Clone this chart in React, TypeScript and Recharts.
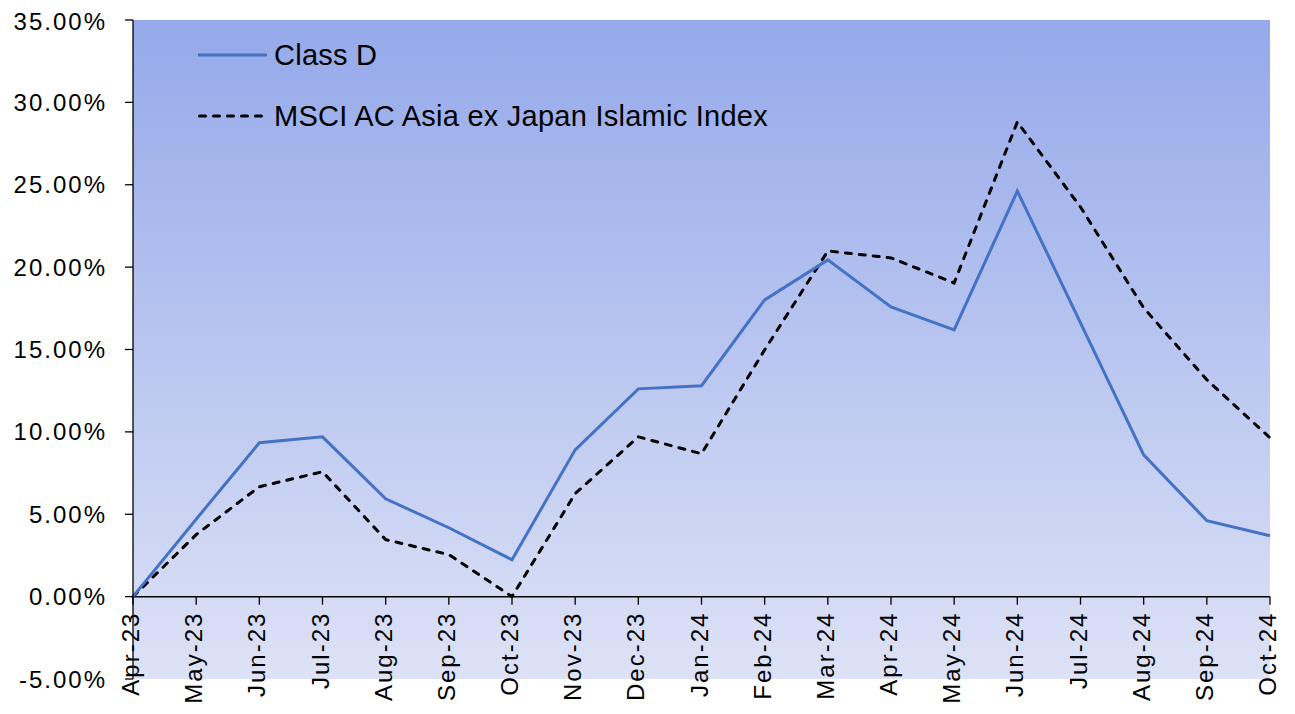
import {
  LineChart,
  Line,
  XAxis,
  YAxis,
  CartesianGrid,
  ReferenceLine,
} from 'recharts'

const months = [
  'Apr-23', 'May-23', 'Jun-23', 'Jul-23', 'Aug-23', 'Sep-23', 'Oct-23',
  'Nov-23', 'Dec-23', 'Jan-24', 'Feb-24', 'Mar-24', 'Apr-24', 'May-24',
  'Jun-24', 'Jul-24', 'Aug-24', 'Sep-24', 'Oct-24',
]
const classD = [
  0, 4.7, 9.34, 9.7, 5.94, 4.18, 2.24, 8.91, 12.61, 12.8, 18.01, 20.44,
  17.59, 16.19, 24.62, 16.62, 8.61, 4.61, 3.7,
]
const msci = [
  0, 3.76, 6.67, 7.58, 3.46, 2.55, 0, 6.25, 9.7, 8.67, 14.98, 20.98,
  20.56, 19.04, 28.81, 23.65, 17.53, 13.16, 9.64,
]
const yTicks = [-5, 0, 5, 10, 15, 20, 25, 30, 35]

const data = months.map((m, i) => ({ month: m, classD: classD[i], msci: msci[i] }))

const W = 1287
const H = 706
const X_AXIS_H = 30
const MARGIN = { top: 12, right: 25, bottom: 35 - X_AXIS_H, left: 0 }
const PLOT_H = H - 12 - 35
// distance from bottom of plot (-5%) up to the 0% line
const ZERO_SHIFT = (PLOT_H * 5) / 40
const FONT = '"Liberation Sans", Arial, sans-serif'

// eslint-disable-next-line @typescript-eslint/no-explicit-any
function MonthTick(props: any) {
  const { x, y, payload } = props
  const y0 = y - ZERO_SHIFT
  return (
    <g>
      <line x1={x} y1={y0} x2={x} y2={y0 + 8} stroke="#000" strokeWidth={1.3} />
      <text
        x={x}
        y={y0 + 15}
        transform={`rotate(-90 ${x} ${y0 + 15})`}
        textAnchor="end"
        dy={6}
        fontSize={24}
        letterSpacing={2}
        fontFamily={FONT}
        fill="#000"
      >
        {payload.value}
      </text>
    </g>
  )
}

export default function App() {
  return (
    <div style={{ position: 'relative', width: W, height: H }}>
      <LineChart width={W} height={H} data={data} margin={MARGIN}>
        <defs>
          <linearGradient id="bg" x1="0" y1="0" x2="0" y2="1">
            <stop offset="0%" stopColor="#95a9ea" />
            <stop offset="100%" stopColor="#dde2f6" />
          </linearGradient>
        </defs>
        <CartesianGrid horizontal={false} vertical={false} fill="url(#bg)" stroke="none" />
        <XAxis
          dataKey="month"
          height={X_AXIS_H}
          axisLine={false}
          tickLine={false}
          tickSize={0}
          tickMargin={0}
          interval={0}
          tick={<MonthTick />}
        />
        <YAxis
          domain={[-5, 35]}
          ticks={yTicks}
          width={125}
          tickFormatter={v => `${v.toFixed(2)}%`}
          tick={{ fontSize: 24, fill: '#000', fontFamily: FONT, letterSpacing: 2 }}
          tickSize={8}
          tickMargin={18}
          axisLine={{ stroke: '#000', strokeWidth: 1.3 }}
          tickLine={{ stroke: '#000', strokeWidth: 1.3 }}
          allowDataOverflow
        />
        <ReferenceLine y={0} stroke="#000" strokeWidth={1.5} />
        <Line
          dataKey="msci"
          stroke="#000"
          strokeWidth={3}
          strokeDasharray="6 8"
          strokeLinecap="round"
          dot={false}
          isAnimationActive={false}
        />
        <Line
          dataKey="classD"
          stroke="#4472c4"
          strokeWidth={3}
          dot={false}
          isAnimationActive={false}
        />
      </LineChart>
      <div style={{ position: 'absolute', left: 190, top: 31, fontFamily: FONT, fontSize: 29, letterSpacing: 0.25, color: '#000' }}>
        <div style={{ display: 'flex', alignItems: 'center', height: 32 }}>
          <svg width={76} height={6}>
            <line x1={0} y1={3} x2={69} y2={3} stroke="#4472c4" strokeWidth={3} />
          </svg>
          <span>Class D</span>
        </div>
        <div style={{ display: 'flex', alignItems: 'center', height: 32, marginTop: 29 }}>
          <svg width={76} height={6}>
            <line x1={1.5} y1={3} x2={69} y2={3} stroke="#000" strokeWidth={3} strokeDasharray="6 8" strokeLinecap="round" />
          </svg>
          <span>MSCI AC Asia ex Japan Islamic Index</span>
        </div>
      </div>
    </div>
  )
}
